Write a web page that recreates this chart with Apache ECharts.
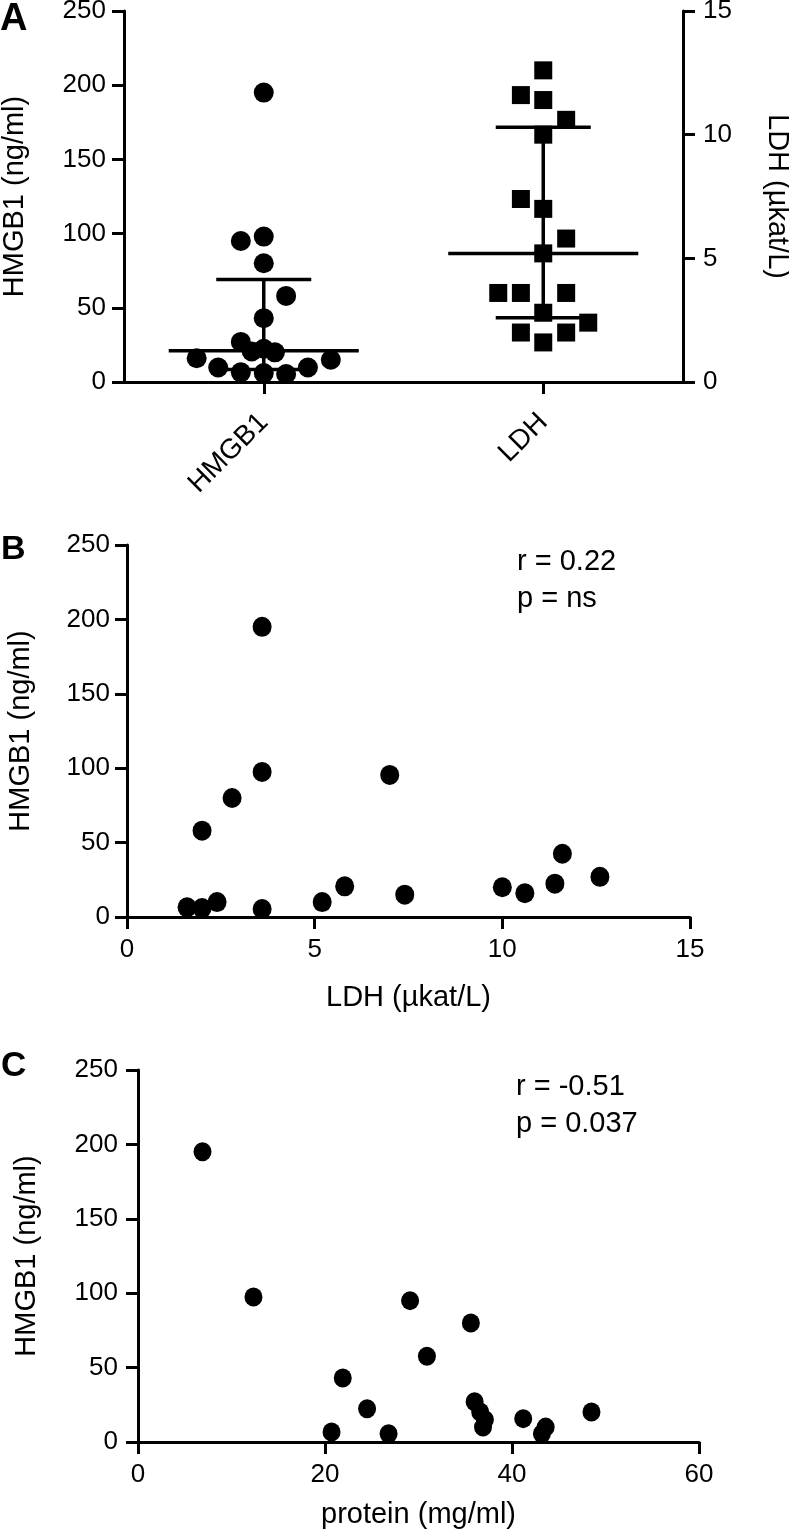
<!DOCTYPE html>
<html><head><meta charset="utf-8">
<script src="https://cdn.jsdelivr.net/npm/echarts@6/dist/echarts.min.js"></script>
<style>html,body{margin:0;padding:0;background:#fff;} #c{width:789px;height:1531px;}</style>
</head><body><div id="c"></div>
<script>
// ---------- data ----------
const categories = ['HMGB1', 'LDH'];
// Panel A: HMGB1 (ng/ml) values and horizontal jitter (fraction of category width)
const hmgb1Values = [195, 98, 95, 80, 58, 43, 27, 22.4, 20.6, 20, 16, 15, 9.8, 9.8, 6.5, 6, 5.4];
const hmgb1Jitter = [0, 0, -0.082, 0, 0.08, 0, -0.082, 0, -0.043, 0.04, -0.24, 0.24, -0.163, 0.158, -0.082, 0, 0.08];
// Panel A: LDH (µkat/L) values and jitter
const ldhValues = [12.6, 11.6, 11.4, 10.6, 10.0, 7.4, 7.0, 5.8, 5.2, 3.6, 3.6, 3.6, 2.8, 2.4, 2.0, 2.0, 1.6];
const ldhJitter = [0, -0.08, 0, 0.082, 0, -0.08, 0, 0.082, 0, -0.161, -0.08, 0.082, 0, 0.161, -0.08, 0.082, 0];
// median with interquartile range: [q1, median, q3]
const hmgb1Stats = [8.5, 21, 69];
const ldhStats = [2.6, 5.2, 10.3];
// Panel B: [LDH, HMGB1]
const ldhVsHmgb1 = [[1.6, 6.5], [2.0, 6], [2.4, 10], [2.0, 58], [2.8, 80], [3.6, 5.4], [3.6, 97.5], [3.6, 195],
  [7.0, 95.5], [5.2, 10], [5.8, 20.6], [7.4, 15], [10.0, 20], [10.6, 16], [11.4, 22.4], [11.6, 42.5], [12.6, 27]];
// Panel C: [protein, HMGB1]
const proteinVsHmgb1 = [[6.9, 195], [12.35, 97.5], [29.1, 95], [35.6, 80], [30.9, 57.6], [21.9, 43], [24.5, 22.4],
  [20.7, 6.7], [26.8, 5.6], [36.0, 27], [36.6, 20.2], [37.1, 15], [36.9, 10], [41.2, 15.7], [43.6, 10], [43.2, 5.6], [48.5, 20.2]];
const annotB = ['r = 0.22', 'p = ns'];
const annotC = ['r = -0.51', 'p = 0.037'];
const panelLetters = ['A', 'B', 'C'];

// ---------- chart ----------
const FONT = "'Liberation Sans', Arial, Helvetica, sans-serif";
const chart = echarts.init(document.getElementById('c'), null, {renderer: 'canvas'});
const aLine = {show: true, onZero: false, lineStyle: {color: '#000', width: 3}};
const aTick = {show: true, length: 12, lineStyle: {color: '#000', width: 3}};
const lbl = (m) => ({show: true, color: '#000', fontSize: 26, fontFamily: FONT, margin: m});
const nameStyle = {color: '#000', fontSize: 29, fontFamily: FONT};
const dot = {color: '#000', opacity: 1};

function statsRender(params, api) {
  const cx = api.value(0), q1 = api.value(1), med = api.value(2), q3 = api.value(3);
  const segs = [[cx - 0.34, med, cx + 0.34, med], [cx - 0.17, q1, cx + 0.17, q1],
                [cx - 0.17, q3, cx + 0.17, q3], [cx, q1, cx, q3]];
  return {type: 'group', children: segs.map(s => {
    const a = api.coord([s[0], s[1]]), b = api.coord([s[2], s[3]]);
    return {type: 'line', shape: {x1: a[0], y1: a[1], x2: b[0], y2: b[1]}, style: {stroke: '#000', lineWidth: 3.5}};
  })};
}

const option = {
  backgroundColor: '#fff',
  animation: false,
  grid: [
    {left: 124, top: 11, width: 559, height: 371, outerBoundsMode: 'none', containLabel: false},
    {left: 127, top: 545, width: 563, height: 372, outerBoundsMode: 'none', containLabel: false},
    {left: 138, top: 1070, width: 561, height: 372, outerBoundsMode: 'none', containLabel: false}
  ],
  xAxis: [
    {type: 'category', gridIndex: 0, data: categories, boundaryGap: true,
     axisLine: aLine, axisTick: Object.assign({alignWithLabel: true}, aTick),
     axisLabel: {color: '#000', fontSize: 28, fontFamily: FONT, rotate: 45, margin: 36}, splitLine: {show: false}},
    {type: 'value', gridIndex: 0, min: 0, max: 2, show: false},
    {type: 'value', gridIndex: 1, min: 0, max: 15, interval: 5, axisLine: aLine, axisTick: aTick,
     axisLabel: lbl(20), splitLine: {show: false},
     name: 'LDH (µkat/L)', nameLocation: 'middle', nameGap: 66, nameTextStyle: nameStyle},
    {type: 'value', gridIndex: 2, min: 0, max: 60, interval: 20, axisLine: aLine, axisTick: aTick,
     axisLabel: lbl(20), splitLine: {show: false},
     name: 'protein (mg/ml)', nameLocation: 'middle', nameGap: 58, nameTextStyle: nameStyle}
  ],
  yAxis: [
    {type: 'value', gridIndex: 0, min: 0, max: 250, interval: 50, axisLine: aLine, axisTick: aTick,
     axisLabel: lbl(18), splitLine: {show: false},
     name: 'HMGB1 (ng/ml)', nameLocation: 'middle', nameGap: 95, nameTextStyle: nameStyle},
    {type: 'value', gridIndex: 0, position: 'right', min: 0, max: 15, interval: 5, axisLine: aLine, axisTick: aTick,
     axisLabel: lbl(20), splitLine: {show: false},
     name: 'LDH (µkat/L)', nameLocation: 'middle', nameGap: 79, nameRotate: -90, nameTextStyle: nameStyle},
    {type: 'value', gridIndex: 1, min: 0, max: 250, interval: 50, axisLine: aLine, axisTick: aTick,
     axisLabel: lbl(17), splitLine: {show: false},
     name: 'HMGB1 (ng/ml)', nameLocation: 'middle', nameGap: 92, nameTextStyle: nameStyle},
    {type: 'value', gridIndex: 2, min: 0, max: 250, interval: 50, axisLine: aLine, axisTick: aTick,
     axisLabel: lbl(20), splitLine: {show: false},
     name: 'HMGB1 (ng/ml)', nameLocation: 'middle', nameGap: 97, nameTextStyle: nameStyle}
  ],
  series: [
    {type: 'custom', xAxisIndex: 1, yAxisIndex: 0, z: 1, renderItem: statsRender,
     encode: {x: 0, y: [1, 2, 3]}, data: [[0.5].concat(hmgb1Stats)]},
    {type: 'custom', xAxisIndex: 1, yAxisIndex: 1, z: 1, renderItem: statsRender,
     encode: {x: 0, y: [1, 2, 3]}, data: [[1.5].concat(ldhStats)]},
    {type: 'scatter', xAxisIndex: 1, yAxisIndex: 0, z: 3, symbol: 'circle', symbolSize: 20,
     itemStyle: dot, data: hmgb1Values.map((v, i) => [0.5 + hmgb1Jitter[i], v])},
    {type: 'scatter', xAxisIndex: 1, yAxisIndex: 1, z: 3, symbol: 'rect', symbolSize: 18,
     itemStyle: dot, data: ldhValues.map((v, i) => [1.5 + ldhJitter[i], v])},
    {type: 'scatter', xAxisIndex: 2, yAxisIndex: 2, symbol: 'circle', symbolSize: [19, 20],
     itemStyle: dot, data: ldhVsHmgb1},
    {type: 'scatter', xAxisIndex: 3, yAxisIndex: 3, symbol: 'circle', symbolSize: [18, 19],
     itemStyle: dot, data: proteinVsHmgb1}
  ],
  graphic: [
    {type: 'text', style: {text: panelLetters[0], x: 0, y: 19.5, verticalAlign: 'middle', font: 'bold 38px ' + FONT, fill: '#000'}},
    {type: 'text', style: {text: panelLetters[1], x: 1, y: 549.5, verticalAlign: 'middle', font: 'bold 34px ' + FONT, fill: '#000'}},
    {type: 'text', style: {text: panelLetters[2], x: 1, y: 1066.5, verticalAlign: 'middle', font: 'bold 35px ' + FONT, fill: '#000'}},
    {type: 'text', style: {text: annotB[0], x: 517, y: 562, verticalAlign: 'middle', font: '29px ' + FONT, fill: '#000'}},
    {type: 'text', style: {text: annotB[1], x: 517, y: 599, verticalAlign: 'middle', font: '29px ' + FONT, fill: '#000'}},
    {type: 'text', style: {text: annotC[0], x: 516, y: 1087, verticalAlign: 'middle', font: '29px ' + FONT, fill: '#000'}},
    {type: 'text', style: {text: annotC[1], x: 516, y: 1124, verticalAlign: 'middle', font: '29px ' + FONT, fill: '#000'}}
  ]
};
chart.setOption(option);
</script>
</body></html>
